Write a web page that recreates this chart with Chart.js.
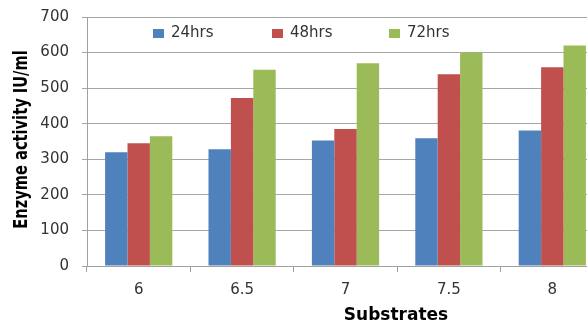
<!DOCTYPE html>
<html>
<head>
<meta charset="utf-8">
<script src="https://cdn.jsdelivr.net/npm/chart.js@4.4.0/dist/chart.umd.min.js"></script>
<style>
  html, body { margin: 0; padding: 0; background: #fff; overflow: hidden; }
  #wrap { width: 604px; height: 324px; }
</style>
</head>
<body>
<div id="wrap"><canvas id="c" width="604" height="324"></canvas></div>
<script>
const categories = ["6", "6.5", "7", "7.5", "8"];
const series24 = [320, 328, 353, 359, 381];
const series48 = [345, 472, 385, 539, 559];
const series72 = [365, 552, 570, 600, 620];
const yTicks = [0, 100, 200, 300, 400, 500, 600, 700];
const seriesLabels = ["24hrs", "48hrs", "72hrs"];
const seriesColors = ["#4F81BD", "#C0504D", "#9BBB59"];
const xTitle = "Substrates";
const yTitle = "Enzyme activity IU/ml";

const extrasPlugin = {
  id: 'extras',
  afterDraw(chart) {
    const ctx = chart.ctx;
    const xs = [153, 272, 389];
    const y = 33;
    ctx.save();
    ctx.font = '15px "DejaVu Sans"';
    ctx.textBaseline = 'middle';
    ctx.textAlign = 'left';
    chart.data.datasets.forEach((ds, i) => {
      ctx.fillStyle = ds.backgroundColor;
      ctx.fillRect(xs[i], y - 4, 11, 9);
      ctx.fillStyle = '#333';
      ctx.fillText(ds.label, xs[i] + 18, y + 0.5);
    });
    // x-axis title
    ctx.font = 'bold 17px "DejaVu Sans"';
    ctx.fillStyle = '#000';
    ctx.textAlign = 'center';
    ctx.textBaseline = 'alphabetic';
    ctx.fillText(xTitle, 396, 319.5);
    ctx.restore();
    // y-axis title (condensed)
    ctx.save();
    ctx.font = 'bold 19px "DejaVu Sans"';
    ctx.fillStyle = '#000';
    ctx.textAlign = 'center';
    ctx.textBaseline = 'alphabetic';
    ctx.translate(26.5, 139.5);
    ctx.rotate(-Math.PI / 2);
    ctx.scale(0.77, 1);
    ctx.fillText(yTitle, 0, 0);
    ctx.restore();
  }
};

new Chart(document.getElementById('c'), {
  type: 'bar',
  data: {
    labels: categories,
    datasets: [
      { label: seriesLabels[0], data: series24, backgroundColor: seriesColors[0] },
      { label: seriesLabels[1], data: series48, backgroundColor: seriesColors[1] },
      { label: seriesLabels[2], data: series72, backgroundColor: seriesColors[2] }
    ]
  },
  options: {
    responsive: false,
    animation: false,
    layout: { padding: { top: 17, right: 0, bottom: 0, left: 0 } },
    plugins: { legend: { display: false }, tooltip: { enabled: false } },
    datasets: { bar: { categoryPercentage: 0.65, barPercentage: 1.0 } },
    scales: {
      x: {
        grid: { display: true, drawOnChartArea: false, offset: true, tickLength: 6, color: '#a0a0a0' },
        border: { color: '#a0a0a0' },
        ticks: { color: '#333', font: { family: 'DejaVu Sans', size: 15 }, padding: 9 },
        title: { display: false },
        afterFit(scale) { scale.height = 58; scale.paddingLeft = 0; scale.paddingRight = 0; }
      },
      y: {
        min: 0, max: 700,
        afterBuildTicks(scale) { scale.ticks = yTicks.map(v => ({ value: v })); },
        grid: { color: '#a6a6a6', tickLength: 5 },
        border: { color: '#a0a0a0' },
        ticks: { color: '#333', font: { family: 'DejaVu Sans', size: 15 }, padding: 13 },
        title: { display: false },
        afterFit(scale) { scale.width = 87; scale.paddingTop = 0; scale.paddingBottom = 0; }
      }
    }
  },
  plugins: [extrasPlugin]
});
</script>
</body>
</html>
